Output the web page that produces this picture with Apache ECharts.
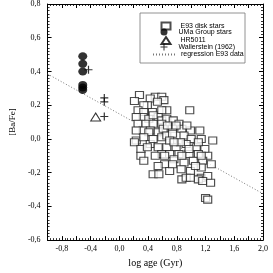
<!DOCTYPE html>
<html><head><meta charset="utf-8">
<script src="https://cdn.jsdelivr.net/npm/echarts@6/dist/echarts.min.js"></script>
<style>html,body{margin:0;padding:0;background:#fff}#c{width:273px;height:273px}</style>
</head><body><div id="c"></div>
<script>
// E93 disk stars [log age, [Ba/Fe]]
const e93Stars = [
[0.28,0.26],[0.50,0.25],[0.59,0.25],[0.62,0.23],[0.43,0.24],[0.21,0.225],[0.39,0.20],[0.53,0.22],[0.98,0.17],[0.66,0.17],[0.34,0.20],
[0.26,0.17],[0.34,0.16],[0.46,0.16],[0.59,0.17],[0.33,0.13],[0.41,0.12],[0.54,0.13],[0.59,0.11],[0.66,0.12],[0.75,0.11],[0.83,0.09],[0.47,0.14],[0.235,0.13],
[0.26,0.09],[0.37,0.09],[0.47,0.09],[0.59,0.09],[0.33,0.05],[0.43,0.05],[0.54,0.04],[0.61,0.06],[0.74,0.06],[0.87,0.06],[0.99,0.05],[1.12,0.05],[0.67,0.08],[0.79,0.08],[0.235,0.05],[0.94,0.08],[0.41,0.04],
[0.235,-0.01],[0.21,-0.02],[0.34,0.01],[0.43,-0.03],[0.54,-0.05],[0.59,0.01],[0.66,0.02],[0.74,0.03],[0.90,0.02],[1.00,0.00],[1.14,0.00],[1.30,-0.01],[0.66,-0.05],[0.79,-0.05],[0.93,-0.03],[1.07,-0.05],[1.19,-0.06],[0.30,-0.06],[0.59,-0.09],[0.70,-0.09],[0.83,-0.09],[0.97,-0.09],[1.10,-0.09],[0.47,0.00],[0.85,-0.02],[1.23,-0.10],
[0.30,-0.10],[0.34,-0.13],[0.76,-0.12],[0.63,-0.15],[0.90,-0.14],[1.03,-0.13],[1.16,-0.13],[1.28,-0.15],[0.54,-0.16],[0.86,-0.18],[0.99,-0.19],[1.14,-0.17],[0.47,-0.21],[0.55,-0.21],[0.87,-0.24],[0.93,-0.23],[0.99,-0.23],[1.14,-0.23],[1.23,-0.22],[1.10,-0.24],[1.16,-0.25],[1.27,-0.26],[0.70,-0.19],[1.06,-0.16],
[1.20,-0.35],[1.23,-0.36],
[0.70,-0.01],[0.97,-0.06],[1.10,-0.02],[0.76,-0.02],[0.63,-0.10],[0.87,-0.10],[0.74,-0.15],[1.14,-0.10],[0.50,-0.10],[0.39,-0.05]
];
// UMa Group stars
const umaStars = [[-0.51,0.49],[-0.51,0.445],[-0.51,0.40],[-0.51,0.32],[-0.51,0.305],[-0.51,0.29]];
// HR5011
const hr5011 = [[-0.33,0.13]];
// Wallerstein (1962)
const wallerstein = [[-0.43,0.41],[-0.21,0.243],[-0.21,0.22],[-0.21,0.133]];
// regression E93 data
const regX = [-1.0, 2.0];
const regY = [0.385, -0.325];

const seriesNames = ['E93 disk stars','UMa Group stars','HR5011','Wallerstein (1962)','regression E93 data'];
const xTickLabels = ['-0,8','-0,4','0,0','0,4','0,8','1,2','1,6','2,0'];

const serif = '"Liberation Serif","DejaVu Serif",serif';
const sans = '"Liberation Sans",Arial,sans-serif';
const fmt = v => (Math.round(v*10)/10).toFixed(1).replace('.', ',');
const plusPath = 'path://M-0.6,-4H0.6V-0.6H4V0.6H0.6V4H-0.6V0.6H-4V-0.6H-0.6Z';

const chart = echarts.init(document.getElementById('c'), null, {renderer:'canvas'});
const axisLineCommon = {show:true, onZero:false, lineStyle:{color:'#000', width:1}};
const tickCommon = {inside:true, length:4, lineStyle:{color:'#000', width:1}};
const minorCommon = {show:true, length:2, lineStyle:{color:'#000', width:0.8}};
const legendText = {fontFamily:sans, fontSize:7, lineHeight:7, color:'#000'};
const rowTops = [21.5, 28.5, 36, 43.5, 51];
const legends = seriesNames.map((n,i)=>{
  const l = {
    orient:'vertical', left: i<4 ? 160.5 : 152, top: rowTops[i], padding:0,
    itemWidth: i<4 ? 9 : 23, itemHeight:7, itemGap:0,
    textStyle:Object.assign({padding:[0,0,0, i<4 ? 5 : 0]}, legendText),
    data:[n], z:60
  };
  if (i === 4) l.itemStyle = {color:'rgba(0,0,0,0)', borderWidth:0, opacity:0};
  return l;
});
chart.setOption({
  animation:false,
  backgroundColor:'#fff',
  grid:{left:37, right:10, top:4, bottom:27, containLabel:false},
  graphic:[{type:'rect', shape:{x:140, y:13, width:105, height:50},
    style:{fill:'#fff', stroke:'#777', lineWidth:0.8}, z:50}],
  legend:legends,
  xAxis:[{
    type:'value', min:-1.0, max:2.0, interval:0.2,
    axisLine:axisLineCommon,
    axisTick:tickCommon, minorTick:Object.assign({splitNumber:5}, minorCommon),
    splitLine:{show:false},
    axisLabel:{margin:5, fontFamily:serif, fontSize:8, color:'#000',
      formatter:v=>{const t=fmt(v); return xTickLabels.indexOf(t)>=0 ? t : '';}},
    name:'log age (Gyr)', nameLocation:'middle', nameGap:17,
    nameTextStyle:{fontFamily:serif, fontSize:10, color:'#000'}
  },{
    type:'value', position:'top', min:-1.0, max:2.0, interval:0.2,
    axisLine:axisLineCommon,
    axisTick:tickCommon, minorTick:Object.assign({splitNumber:5}, minorCommon),
    splitLine:{show:false}, axisLabel:{show:false}
  }],
  yAxis:[{
    type:'value', min:-0.6, max:0.8, interval:0.2,
    axisLine:axisLineCommon,
    axisTick:tickCommon, minorTick:Object.assign({splitNumber:10}, minorCommon),
    splitLine:{show:false},
    axisLabel:{margin:7, fontFamily:serif, fontSize:8, color:'#000', formatter:fmt},
    name:'[Ba/Fe]', nameLocation:'middle', nameGap:30, nameRotate:90,
    nameTextStyle:{fontFamily:serif, fontSize:9, color:'#000'}
  },{
    type:'value', position:'right', min:-0.6, max:0.8, interval:0.2,
    axisLine:axisLineCommon,
    axisTick:tickCommon, minorTick:Object.assign({splitNumber:10}, minorCommon),
    splitLine:{show:false}, axisLabel:{show:false}
  }],
  series:[
    {name:seriesNames[0], type:'scatter', data:e93Stars, symbol:'rect', symbolSize:[8,7],
     itemStyle:{color:'#fff', borderColor:'#222', borderWidth:1.1}, z:3},
    {name:seriesNames[1], type:'scatter', data:umaStars, symbol:'circle', symbolSize:[9,8],
     itemStyle:{color:'#000'}, z:4},
    {name:seriesNames[2], type:'scatter', data:hr5011, symbol:'triangle', symbolSize:[10,8],
     itemStyle:{color:'#fff', borderColor:'#000', borderWidth:1}, z:4},
    {name:seriesNames[3], type:'scatter', data:wallerstein, symbol:plusPath, symbolSize:8, symbolKeepAspect:true,
     itemStyle:{color:'#000'}, z:4},
    {name:seriesNames[4], type:'line', data:regX.map((x,i)=>[x,regY[i]]), symbol:'none', showSymbol:false,
     lineStyle:{color:'#777', width:1, type:[1,2]}, itemStyle:{color:'#777'}, z:2}
  ]
});
</script></body></html>
